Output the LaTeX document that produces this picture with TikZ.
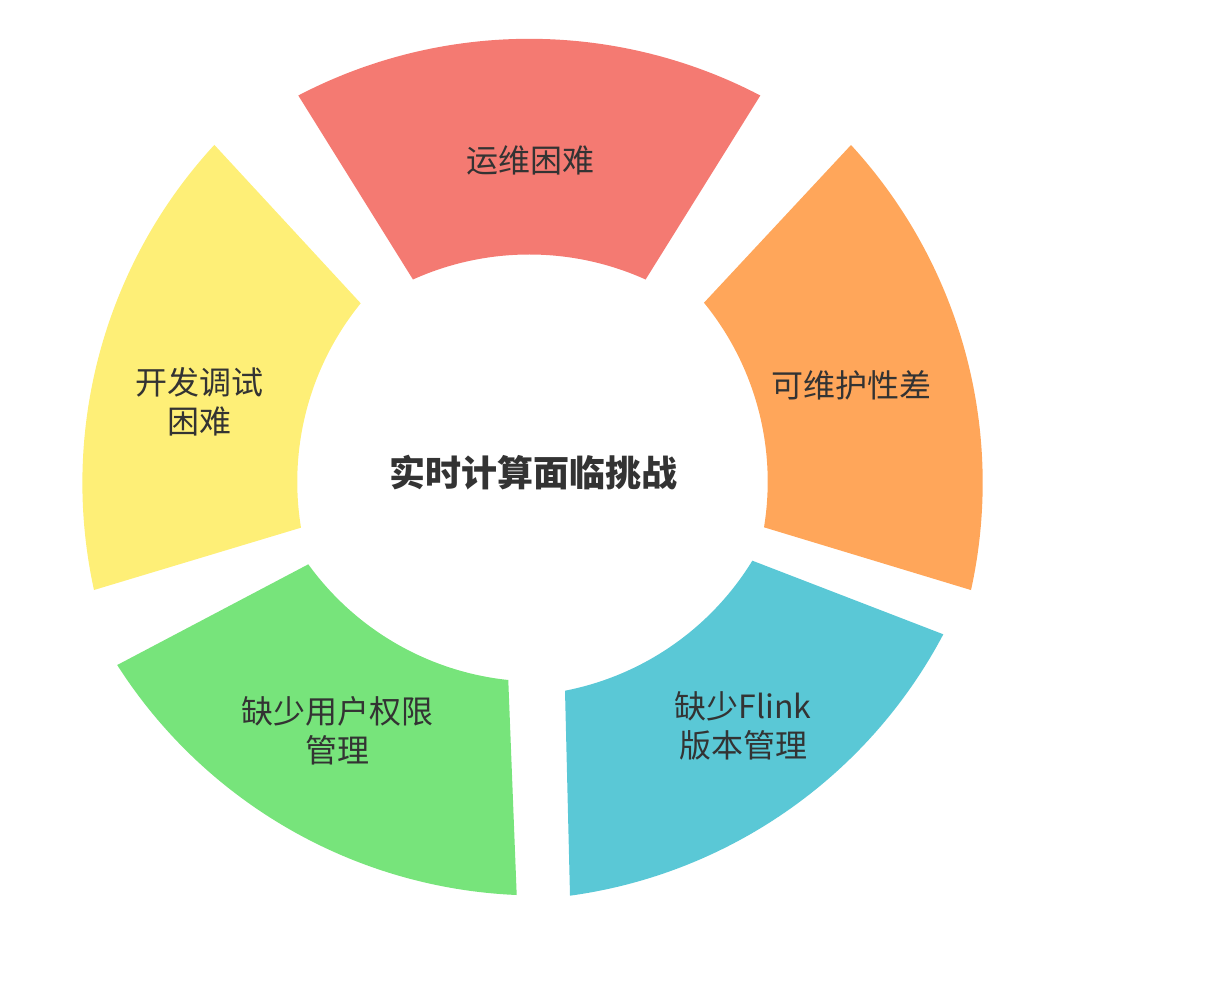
\documentclass[tikz,border=0pt]{standalone}
\usepackage{fontspec}
\newfontfamily\cjk{Noto Sans CJK SC}
\definecolor{cred}{HTML}{F47A72}
\definecolor{corange}{HTML}{FFA65A}
\definecolor{ccyan}{HTML}{5AC8D6}
\definecolor{cgreen}{HTML}{77E47B}
\definecolor{cyellow}{HTML}{FEEF77}
\definecolor{txt}{HTML}{333333}
\begin{document}
\begin{tikzpicture}[x=1pt,y=-1pt,
  seg/.style={draw=none},
  lbl/.style={font=\cjk\fontsize{32}{39}\selectfont, text=txt, align=center, inner sep=0pt},
  title/.style={font=\cjk\bfseries\fontsize{36}{40}\selectfont, text=txt, inner sep=0pt}]
\path[use as bounding box] (0,0) rectangle (1229,985);
% red
\fill[seg,cred] (298.3,95.5) arc[start angle=-117.58, end angle=-62.42, radius=499]
  -- (645.6,279.5) arc[start angle=-65.73, end angle=-114.27, radius=283] -- cycle;
% orange
\fill[seg,corange] (851,145) arc[start angle=-42.60, end angle=12.42, radius=499]
  -- (764,527.3) arc[start angle=9.29, end angle=-39.21, radius=283] -- cycle;
% cyan
\fill[seg,ccyan] (943.3,634.3) arc[start angle=27.83, end angle=82.17, radius=499]
  -- (565,690.7) arc[start angle=79.0, end angle=31.48, radius=283] -- cycle;
% green
\fill[seg,cgreen] (516.7,895) arc[start angle=92.42, end angle=147.44, radius=499]
  -- (308.3,564.3) arc[start angle=144.14, end angle=95.96, radius=283] -- cycle;
% yellow
\fill[seg,cyellow] (94,590) arc[start angle=167.61, end angle=222.65, radius=499]
  -- (360.7,303.3) arc[start angle=219.12, end angle=170.68, radius=283] -- cycle;
% labels
\node[title] (center) at (533,473) {实时计算面临挑战};
\node[lbl] (ops) at (530,160) {运维困难};
\node[lbl] (maint) at (851,385) {可维护性差};
\node[lbl] (flink) at (743,726) {缺少Flink\\版本管理};
\node[lbl] (perm) at (337.5,731) {缺少用户权限\\管理};
\node[lbl] (dev) at (199.5,402) {开发调试\\困难};
\end{tikzpicture}
\end{document}
